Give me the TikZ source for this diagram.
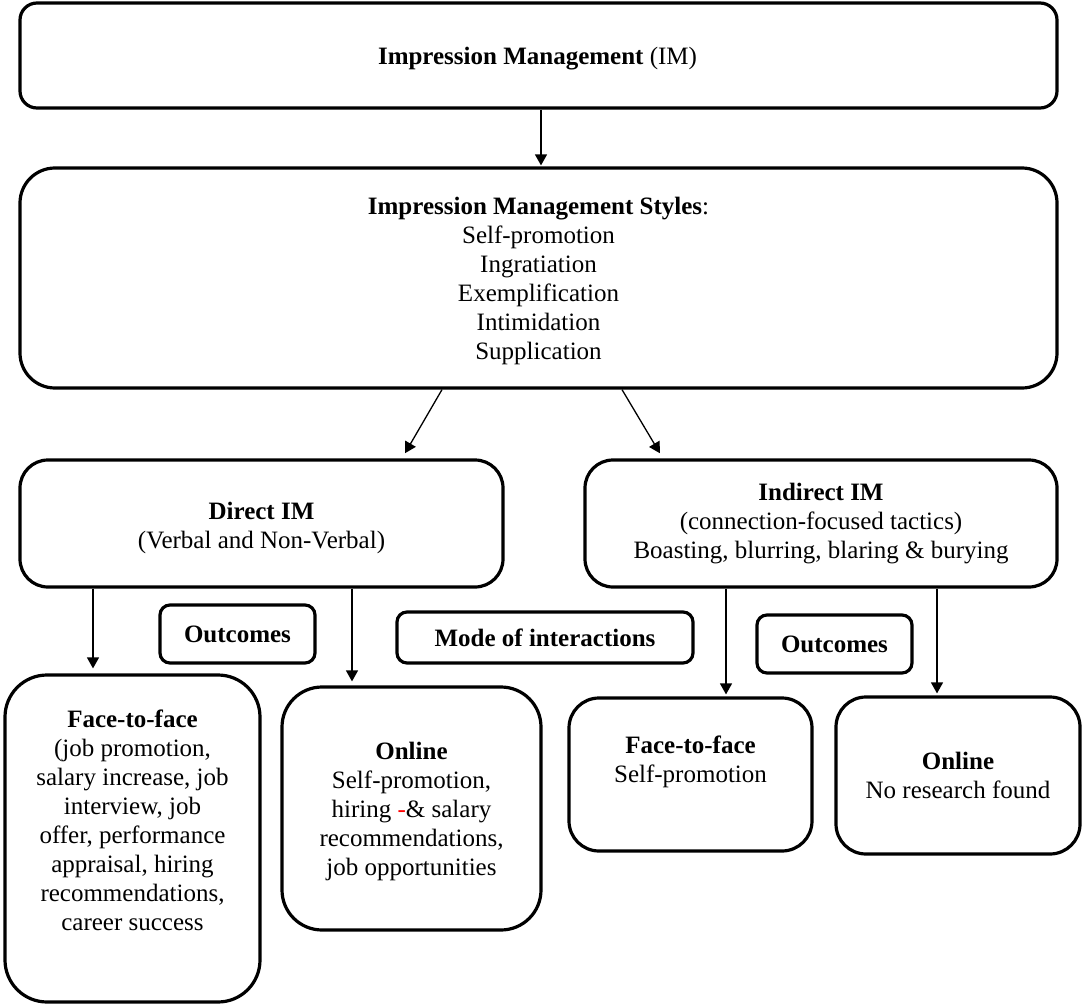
\documentclass[tikz,border=0pt]{standalone}
\usepackage{fontspec}
\setmainfont{Liberation Serif}
\usetikzlibrary{arrows.meta}
\begin{document}
\begin{tikzpicture}[x=1pt,y=-1pt,
  box/.style={draw, line width=3.2pt, inner sep=0pt, rounded corners=#1},
  box/.default=15pt,
  txt/.style={align=center, inner sep=0pt, font=\fontsize{25}{29}\selectfont},
  arr/.style={line width=1.3pt, -{Triangle[length=11pt,width=12pt]}}]
\useasboundingbox (0,0) rectangle (1084,1006);
% boxes
\node[box=17pt, minimum width=1037pt, minimum height=105pt] (im) at (538.5,55.5) {};
\node[box=35pt, minimum width=1037pt, minimum height=220pt] (sty) at (538.5,278) {};
\node[box=28pt, minimum width=483pt, minimum height=127pt] (dir) at (261.5,523.5) {};
\node[box=28pt, minimum width=472pt, minimum height=127pt] (ind) at (821,523.5) {};
\node[box=10pt, minimum width=155pt, minimum height=58pt, txt] (out1) at (237.5,634) {\textbf{Outcomes}};
\node[box=10pt, minimum width=296pt, minimum height=51pt, txt] (mode) at (545,637.5) {\textbf{Mode of interactions}};
\node[box=10pt, minimum width=155pt, minimum height=58pt, txt] (out2) at (834.5,644) {\textbf{Outcomes}};
\node[box=42pt, minimum width=255pt, minimum height=327pt] (ffl) at (132.5,838.5) {};
\node[box=40pt, minimum width=259pt, minimum height=243pt] (onl) at (411.5,808.5) {};
\node[box=30pt, minimum width=243pt, minimum height=153pt] (ffr) at (690.5,774.5) {};
\node[box=30pt, minimum width=244pt, minimum height=157pt] (onr) at (958,775.5) {};
% texts
\node[txt] (tim) at (537.5,59) {\strut\textbf{Impression Management} (IM)};
\node[txt] (tsty) at (538.5,281) {\strut\textbf{Impression Management Styles}:\\Self-promotion\\Ingratiation\\Exemplification\\Intimidation\\Supplication\strut};
\node[txt] (tdir) at (261.5,528) {\strut\textbf{Direct IM}\\(Verbal and Non-Verbal)\strut};
\node[txt] (tind) at (821,524) {\strut\textbf{Indirect IM}\\(connection-focused tactics)\\Boasting, blurring, blaring \& burying\strut};
\node[txt] (tffl) at (132.5,823) {\strut\textbf{Face-to-face}\\(job promotion,\\salary increase, job\\interview, job\\offer, performance\\appraisal, hiring\\recommendations,\\career success\strut};
\node[txt] (tonl) at (411.5,812) {\strut\textbf{Online}\\Self-promotion,\\hiring \textcolor{red}{-}\& salary\\recommendations,\\job opportunities\strut};
\node[txt] (tffr) at (690.5,762) {\strut\textbf{Face-to-face}\\Self-promotion\strut};
\node[txt] (tonr) at (958,778) {\strut\textbf{Online}\\No research found\strut};
% arrow x positions
\coordinate (xa) at (541,0);
\coordinate (d1s) at (442,0);
\coordinate (d1e) at (402,0);
\coordinate (d2s) at (622,0);
\coordinate (d2e) at (663,0);
\coordinate (v1) at (93,0);
\coordinate (v2) at (352,0);
\coordinate (v3) at (726,0);
\coordinate (v4) at (937,0);
% connectors
\draw[arr, shorten >=1pt] (im.south -| xa) -- (sty.north -| xa);
\draw[arr, shorten >=6pt] (sty.south -| d1s) -- (dir.north -| d1e);
\draw[arr, shorten >=6pt] (sty.south -| d2s) -- (ind.north -| d2e);
\draw[arr, shorten >=5pt] (dir.south -| v1) -- (ffl.north -| v1);
\draw[arr, shorten >=4pt] (dir.south -| v2) -- (onl.north -| v2);
\draw[arr, shorten >=2pt] (ind.south -| v3) -- (ffr.north -| v3);
\draw[arr, shorten >=2pt] (ind.south -| v4) -- (onr.north -| v4);
\end{tikzpicture}
\end{document}
